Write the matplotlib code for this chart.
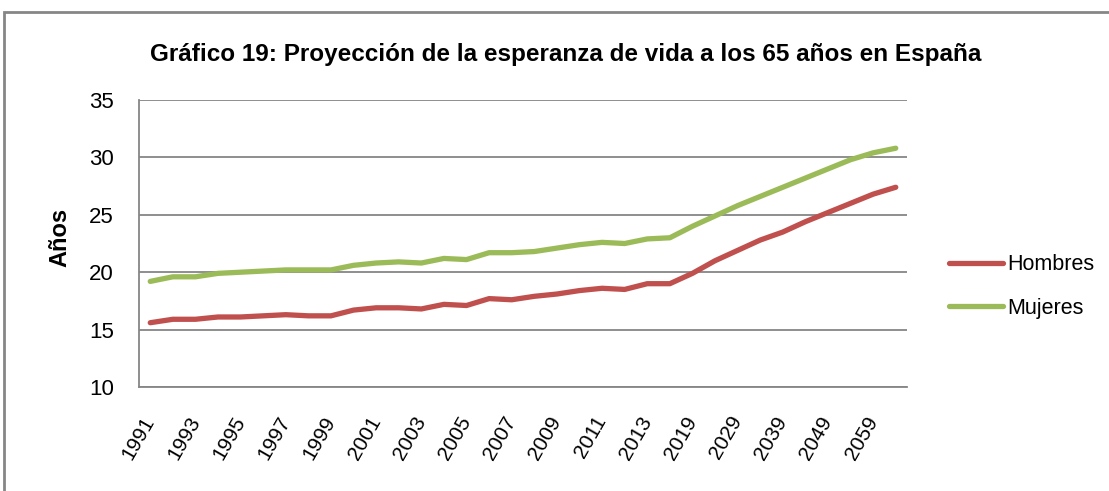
import matplotlib
matplotlib.use("Agg")
import matplotlib.pyplot as plt
from matplotlib.patches import Rectangle

# Datos
anios = ['1991', '1992', '1993', '1994', '1995', '1996', '1997', '1998', '1999',
         '2000', '2001', '2002', '2003', '2004', '2005', '2006', '2007', '2008',
         '2009', '2010', '2011', '2012', '2013', '2014', '2019', '2024', '2029',
         '2034', '2039', '2044', '2049', '2054', '2059', '2064']
hombres = [15.6, 15.9, 15.9, 16.1, 16.1, 16.2, 16.3, 16.2, 16.2,
           16.7, 16.9, 16.9, 16.8, 17.2, 17.1, 17.7, 17.6, 17.9,
           18.1, 18.4, 18.6, 18.5, 19.0, 19.0, 19.9, 21.0, 21.9,
           22.8, 23.5, 24.4, 25.2, 26.0, 26.8, 27.4]
mujeres = [19.2, 19.6, 19.6, 19.9, 20.0, 20.1, 20.2, 20.2, 20.2,
           20.6, 20.8, 20.9, 20.8, 21.2, 21.1, 21.7, 21.7, 21.8,
           22.1, 22.4, 22.6, 22.5, 22.9, 23.0, 24.0, 24.9, 25.8,
           26.6, 27.4, 28.2, 29.0, 29.8, 30.4, 30.8]
etiquetas_y = [10, 15, 20, 25, 30, 35]

plt.rcParams['font.family'] = ['Liberation Sans', 'DejaVu Sans']

fig = plt.figure(figsize=(11.09, 4.91), dpi=100)
ax = fig.add_axes([0.1253, 0.2118, 0.6926, 0.5845])

x = list(range(len(anios)))
ax.plot(x, hombres, color='#C0504D', lw=3.8, solid_capstyle='round', label='Hombres')
ax.plot(x, mujeres, color='#9BBB59', lw=3.8, solid_capstyle='round', label='Mujeres')

ax.set_xlim(-0.5, len(anios) - 0.5)
ax.set_ylim(10, 35)
ax.set_yticks(etiquetas_y)
ax.tick_params(axis='y', length=0, labelsize=16, pad=18)
ax.grid(axis='y', color='#868686', lw=1.3)
ax.set_axisbelow(True)

ax.set_xticks(x[::2])
ax.set_xticklabels(anios[::2], rotation=60, ha='right', va='center',
                   rotation_mode='anchor', fontsize=15)
ax.tick_params(axis='x', length=0, pad=22)

for lado in ['top', 'right']:
    ax.spines[lado].set_visible(False)
for lado in ['left', 'bottom']:
    ax.spines[lado].set_color('#868686')
    ax.spines[lado].set_linewidth(1.3)

ax.set_ylabel('Años', fontsize=17, fontweight='bold')
ax.yaxis.set_label_coords(-0.088, 0.52)

fig.text(0.51, 0.89, 'Gráfico 19: Proyección de la esperanza de vida a los 65 años en España',
         ha='center', va='center', fontsize=17.5, fontweight='bold')

ax.legend(loc='center left', bbox_to_anchor=(1.03, 0.35), frameon=False,
          fontsize=15.5, handlelength=2.5, handletextpad=0.2, labelspacing=1.05)

# marco exterior del grafico
fig.patches.append(Rectangle((4 / 1109, -0.1), 1.2, 1 - 12 / 491 + 0.1,
                             transform=fig.transFigure, fill=False,
                             edgecolor='#868686', lw=2))

fig.savefig('out.png', dpi=100)
